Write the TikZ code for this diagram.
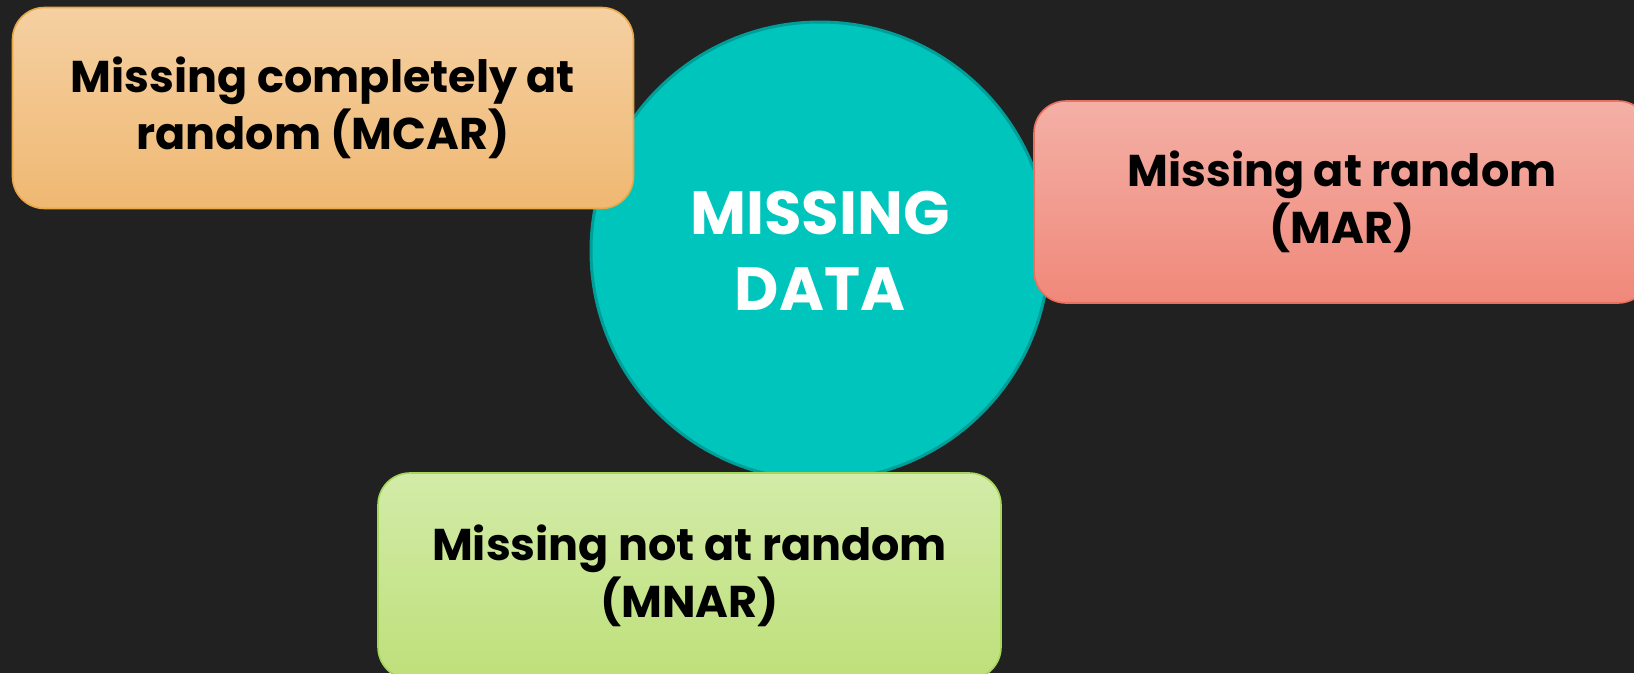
\documentclass[tikz,border=0pt]{standalone}
\usepackage{fontspec}
\setmainfont{Poppins}
\definecolor{bg}{HTML}{212121}
\definecolor{tealfill}{HTML}{00C5BC}
\definecolor{tealline}{HTML}{009E98}
\definecolor{otop}{HTML}{F5D0A2}
\definecolor{obot}{HTML}{EFB872}
\definecolor{oline}{HTML}{E9A745}
\definecolor{rtop}{HTML}{F4B0A6}
\definecolor{rbot}{HTML}{F0887A}
\definecolor{rline}{HTML}{E8705F}
\definecolor{gtop}{HTML}{D3EBA8}
\definecolor{gbot}{HTML}{BEE07A}
\definecolor{gline}{HTML}{A6D65C}
\tikzset{
  catbox/.style={rounded corners=32pt, line width=1.6pt, inner sep=0pt, align=center,
    font=\fontsize{44.5}{57}\selectfont\bfseries, text=black},
  hub/.style={circle, fill=tealfill, draw=tealline, line width=3pt, inner sep=0pt,
    minimum size=458pt, align=center, text=white,
    font=\fontsize{61}{76}\selectfont\bfseries}
}
\begin{document}
\begin{tikzpicture}[x=1pt,y=-1pt]
\useasboundingbox (0,0) rectangle (1634,673);
\fill[bg] (0,0) rectangle (1634,673);
\clip (0,0) rectangle (1634,673);
\node[hub] (hub) at (820,251) {MISSING\\DATA};
\node[catbox, draw=oline, top color=otop, bottom color=obot,
  minimum width=621pt, minimum height=201pt] (mcar) at (323,108) {Missing completely at\\random (MCAR)};
\node[catbox, draw=rline, top color=rtop, bottom color=rbot,
  minimum width=616pt, minimum height=202pt] (mar) at (1342,202) {Missing at random\\(MAR)};
\node[catbox, draw=gline, top color=gtop, bottom color=gbot,
  minimum width=623pt, minimum height=206pt] (mnar) at (689.5,576) {Missing not at random\\(MNAR)};
\end{tikzpicture}
\end{document}
